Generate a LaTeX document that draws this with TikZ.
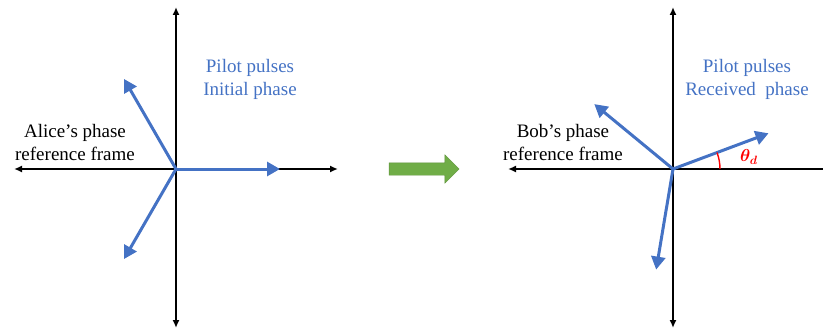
\documentclass[tikz,border=0pt]{standalone}
\usepackage{fontspec}
\setmainfont{Liberation Serif}
\usepackage{amsmath}
\usepackage{xcolor}
\usetikzlibrary{arrows.meta,shapes.arrows,calc}
\definecolor{pilotblue}{HTML}{4472C4}
\definecolor{arrowgreen}{HTML}{70AD47}
\tikzset{>=Latex}

\begin{document}
\begin{tikzpicture}[x=1pt,y=1pt,
axisline/.style={draw=black, line width=1.6pt, {Latex[length=8pt,width=7pt]}-{Latex[length=8pt,width=7pt]}},
pulsevec/.style={draw=pilotblue, line width=3pt, -{Triangle[length=13pt,width=14pt]}},
framelabel/.style={align=center, font=\fontsize{19}{23}\selectfont, text=black},
pilotlabel/.style={align=center, font=\fontsize{19}{23}\selectfont, text=pilotblue},
anglelabel/.style={text=red, font=\fontsize{17}{19}\selectfont\boldmath},
]
\useasboundingbox (0,0) rectangle (823,333);
%Origins
\coordinate (AliceO) at (176,164);
\coordinate (BobO) at (673,164);
%Alice axes
\draw[axisline] (14,164) -- (338,164);
\draw[axisline] (176,5) -- (176,326);
%Bob axes
\draw[axisline, -] (673,164) -- (823,164);
\draw[axisline, {Latex[length=8pt,width=7pt]}-] (508,164) -- (673,164);
\draw[axisline] (673,5) -- (673,326);
%Alice pulses
\foreach \ang/\nm in {0/a, 120/b, 240/c}
  \coordinate (Alice\nm) at ($(AliceO)+(\ang:104)$);
\foreach \nm in {a,b,c}
  \draw[pulsevec] (AliceO) -- (Alice\nm);
%Bob pulses
\foreach \ang/\nm in {20.5/a, 140.5/b, 260.5/c}
  \coordinate (Bob\nm) at ($(BobO)+(\ang:102)$);
\foreach \nm in {a,b,c}
  \draw[pulsevec] (BobO) -- (Bob\nm);
%Angle
\coordinate (ArcStart) at (720,164);
\draw[red, line width=1.4pt] (ArcStart) arc[start angle=0, end angle=20.5, radius=47pt];
\node[anglelabel] (ThetaD) at (749,176) {$\theta_d$};
%Nodes
\node[framelabel](AliceFrame) at (75,190){Alice’s phase\\reference frame};
\node[pilotlabel](AliceTitle) at (250,254){Pilot pulses\\Initial phase};
\node[framelabel](BobFrame) at (563,190){Bob’s phase\\reference frame};
\node[pilotlabel](BobTitle) at (747,254){Pilot pulses\\Received\enspace phase};
\node[single arrow, fill=arrowgreen, draw=arrowgreen!85!black, line width=0.4pt,
  minimum height=70, single arrow head extend=8pt,
  inner xsep=0pt, inner ysep=6pt](move) at (421,164){};
\end{tikzpicture}
\end{document}
